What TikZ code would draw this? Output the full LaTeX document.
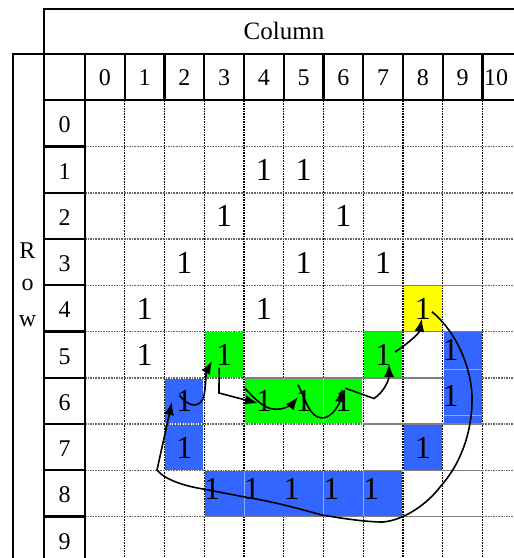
\documentclass[tikz,border=0pt]{standalone}
\usepackage{fontspec}
\setmainfont{Liberation Serif}
\usetikzlibrary{arrows.meta,calc}
\definecolor{cblue}{RGB}{51,102,255}
\definecolor{cgreen}{RGB}{0,255,0}
\definecolor{cyellow}{RGB}{255,255,0}
\newcommand\cellfill[5]{\fill[#1] ({85+39.75*(#2)+0.8},{100.3+46.25*(#3)+0.8}) rectangle ({85+39.75*(#4)-0.8},{100.3+46.25*(#5)-0.8});}
\begin{document}
\begin{tikzpicture}[x=1pt,y=-1pt,
 frame/.style={line width=2.2pt, black},
 vgrid/.style={line width=1.4pt, black, dash pattern=on 1.6pt off 1pt},
 hgrid/.style={line width=1.4pt, gray!80!black, dash pattern=on 1.6pt off 1pt},
 hsolid/.style={line width=1.6pt, gray},
 faint/.style={line width=0.6pt, white, opacity=0.45},
 lbl/.style={font=\fontsize{24}{24}\selectfont, inner sep=0pt, anchor=base},
 one/.style={font=\fontsize{32}{32}\selectfont, inner sep=0pt, anchor=base},
 arr/.style={line width=1.6pt, -{Latex[length=13pt,width=10pt]}}]
\useasboundingbox (0,0) rectangle (514,558);
\clip (0,0) rectangle (514,558);
% inner grid
\foreach \c in {1,...,10} \draw[vgrid] ({85+39.75*\c},100.3) -- ({85+39.75*\c},560);
\foreach \r in {1,...,9} \draw[hgrid] (85,{100.3+46.25*\r}) -- (520,{100.3+46.25*\r});
\foreach \r in {4,5,7,8} \draw[hsolid] (363.25,{100.3+46.25*\r}) -- (482.5,{100.3+46.25*\r});
\draw[hsolid] (244,377.8) -- (482.5,377.8);
\draw[hsolid] (204.25,516.55) -- (482.5,516.55);
% coloured cells
\cellfill{cyellow}{8}{4}{9}{5}
\cellfill{cgreen}{3}{5}{4}{6}
\cellfill{cgreen}{7}{5}{8}{6}
\cellfill{cgreen}{4}{6}{7}{7}
\cellfill{cblue}{2}{6}{3}{7}
\cellfill{cblue}{2}{7}{3}{8}
\cellfill{cblue}{9}{5}{10}{7}
\cellfill{cblue}{8}{7}{9}{8}
\cellfill{cblue}{3}{8}{8}{9}
\draw[faint] (323.5,378.5) -- (323.5,423.5);
\foreach \x in {244,323.5,363.25} \draw[faint] (\x,471) -- (\x,516);
\foreach \y in {369,415} \draw[faint] (443.5,\y) -- (482,\y);
% frame
\draw[frame] (516,9.3) -- (44.3,9.3) -- (44.3,560);
\draw[frame] (516,54.3) -- (12.7,54.3) -- (12.7,560);
\draw[frame] (44.3,100.3) -- (520,100.3);
\draw[frame] (85,54.3) -- (85,560);
\foreach \c in {1,...,10} \draw[frame] ({85+39.75*\c},54.3) -- ({85+39.75*\c},100.3);
\foreach \r in {1,...,9} \draw[frame] (44.3,{100.3+46.25*\r}) -- (85,{100.3+46.25*\r});
% labels
\node[lbl, font=\fontsize{25}{25}\selectfont] (col) at (284,39.5) {Column};
\node[lbl] (rowR) at (27.5,258.3) {R};
\node[lbl] (rowo) at (27.5,290.5) {o};
\node[lbl] (roww) at (27.5,326.5) {w};
\foreach \c in {0,...,9} \node[lbl] (h\c) at ({85+39.75*(\c+0.5)},85.5) {\c};
\node[lbl, anchor=base west] (h10) at (484,85.5) {10};
\foreach \r in {0,...,9} \node[lbl] (rl\r) at (64.5,{100.3+46.25*\r+32.5}) {\r};
% ones
\foreach \r/\c/\dx/\dy in {1/4/0/34,1/5/0/34,2/3/0/34,2/6/0/34,3/2/0/34,3/5/0/34,3/7/0/34,
 4/1/0/34,4/4/0/34,4/8/0/34,5/1/0/34,5/3/0/34,5/7/0/34,5/9/-12/29,
 6/2/0/34,6/4/0/34,6/5/0/34,6/6/0/34,6/9/-12/29,7/2/0/34,7/8/0/34,
 8/3/-12/29,8/4/-12/29,8/5/-12/29,8/6/-12/29,8/7/-12/29}
 \node[one] (n\r\c) at ({85+39.75*(\c+0.5)+\dx},{100.3+46.25*\r+\dy}) {1};
% connectors
\draw[arr] ($(n48)+(9,3)$) .. controls (452,328) and (470,360) .. (472,395)
  .. controls (473,432) and (460,465) .. (440,487)
  .. controls (428,503) and (405,520) .. (383,522)
  .. controls (365,522) and (340,518) .. (322,515)
  .. controls (300,509) and (275,502) .. (250,498) -- (203,489)
  .. controls (185,486) and (165,480) .. (157,470) -- ($(n62)+(-12.4,0.7)$);
\draw[arr] ($(n62)+(-5,-6)$) .. controls (186,404) and (197,410) .. (203,399)
  .. controls (206,390) and (206,372) .. ($(n53)+(-12,6)$);
\draw[arr] ($(n53)+(-5,13)$) -- (219,393) -- ($(n64)+(-6,2)$);
\draw[arr] ($(n64)+(-19,-13)$) .. controls (258,402) and (266,411) .. (280,409)
  .. controls (288,408) and (294,402) .. ($(n65)+(-5.6,-4.3)$);
\draw[arr] ($(n65)+(-5.6,-16.3)$) .. controls (306,400) and (309,417) .. (322,418)
  .. controls (333,418) and (340,402) .. ($(n66)+(-1.4,-12.3)$);
\draw[arr] ($(n66)+(2,-13)$) -- (374,398.5) .. controls (384,392) and (389,380) .. ($(n57)+(6,9)$);
\draw[arr] ($(n57)+(12,-3)$) .. controls (407,344) and (419,334) .. ($(n48)+(-1,10)$);
\end{tikzpicture}
\end{document}
